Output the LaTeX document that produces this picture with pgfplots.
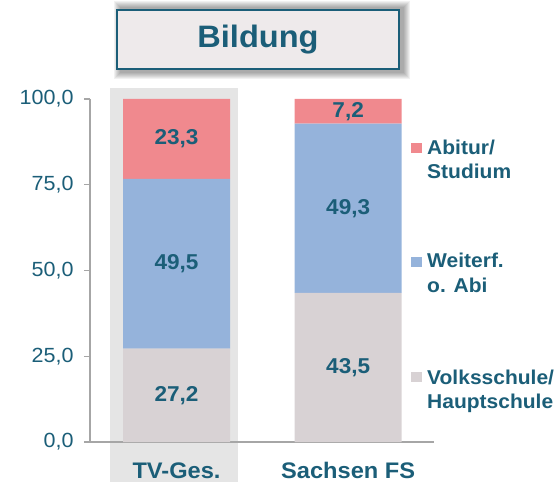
\documentclass[border=0pt]{standalone}
\usepackage{fontspec}
\setmainfont{Liberation Sans}[FakeStretch=1.05]
\usepackage{pgfplots}
\pgfplotsset{compat=1.18}
\definecolor{tealtxt}{HTML}{1B5E78}
\definecolor{abicol}{HTML}{F0898E}
\definecolor{weicol}{HTML}{95B3DB}
\definecolor{volcol}{HTML}{D8D2D4}
\definecolor{bggray}{HTML}{E5E5E5}
\definecolor{axgray}{HTML}{A6A6A6}
\definecolor{titlefill}{HTML}{EEEAEB}
\begin{document}
\begin{tikzpicture}
\path[use as bounding box] (0bp,0bp) rectangle (560bp,482bp);
% background band behind TV-Ges.
\fill[bggray] (110bp,0bp) rectangle (238bp,394bp);
\begin{axis}[
  at={(90bp,40bp)}, anchor=south west,
  scale only axis, width=344bp, height=343bp,
  xmin=-0.504, xmax=1.5, ymin=0, ymax=100,
  ybar stacked, bar width=107bp,
  axis x line*=bottom, axis y line*=left,
  axis line style={draw=axgray, line width=1.2bp, -},
  clip=false,
  xtick={0,1}, xticklabels={TV-Ges., Sachsen FS},
  xtick style={draw=none},
  xticklabel style={font=\fontsize{22.5bp}{26bp}\selectfont\bfseries, text=tealtxt, anchor=base, yshift=-30bp},
  ytick={0,25,50,75,100},
  ytick style={draw=axgray, line width=1.2bp},
  tick align=outside, major tick length=6bp,
  yticklabel style={font=\fontsize{20.5bp}{24bp}\selectfont, text=tealtxt, xshift=-7bp,
    /pgf/number format/.cd, fixed, fixed zerofill, precision=1, use comma, assume math mode=true},
]
\addplot[fill=volcol, draw=none] coordinates {(0,27.2) (1,43.5)};
\addplot[fill=weicol, draw=none] coordinates {(0,49.5) (1,49.3)};
\addplot[fill=abicol, draw=none] coordinates {(0,23.3) (1,7.2)};
\end{axis}
% value labels, centred in each segment
\begin{axis}[
  at={(90bp,40bp)}, anchor=south west,
  scale only axis, width=344bp, height=343bp,
  xmin=-0.504, xmax=1.5, ymin=0, ymax=100,
  hide axis, clip=false,
]
\addplot[draw=none, mark=none, nodes near coords, point meta=explicit symbolic,
  every node near coord/.append style={anchor=center, inner sep=0pt,
    font=\fontsize{21.5bp}{25bp}\selectfont\bfseries, text=tealtxt}]
  table[meta=label] {
x y label
0 13.6 27,2
0 51.95 49,5
0 88.35 23,3
1 21.75 43,5
1 68.15 49,3
1 96.4 7,2
};
\end{axis}
% soft shadow of the title box
\foreach \i in {1,...,7} {
  \fill[black, opacity=0.055] (121bp-\i bp,410bp-\i bp) rectangle (403bp+\i bp,474bp+\i bp);
}
% title box
\node[draw=tealtxt, line width=1.5bp, fill=titlefill, minimum width=282bp, minimum height=59bp,
  text=tealtxt, font=\fontsize{31bp}{36bp}\selectfont\bfseries] at (258bp,442.5bp) {Bildung};
% legend
\fill[abicol] (411bp,328.7bp) rectangle ++(10.7bp,10.7bp);
\fill[weicol] (411bp,214.7bp) rectangle ++(10.7bp,10.7bp);
\fill[volcol] (411bp,99.7bp) rectangle ++(10.7bp,10.7bp);
\begin{scope}[every node/.style={anchor=base west, inner sep=0pt, text=tealtxt, font=\fontsize{20bp}{24bp}\selectfont\bfseries}]
\node at (427bp,327bp) {Abitur/};
\node at (427bp,303bp) {Studium};
\node at (427bp,214bp) {Weiterf.};
\node at (427bp,189bp) {o. Abi};
\node at (427bp,97bp) {Volksschule/};
\node at (427bp,73bp) {Hauptschule};
\end{scope}
\end{tikzpicture}
\end{document}
